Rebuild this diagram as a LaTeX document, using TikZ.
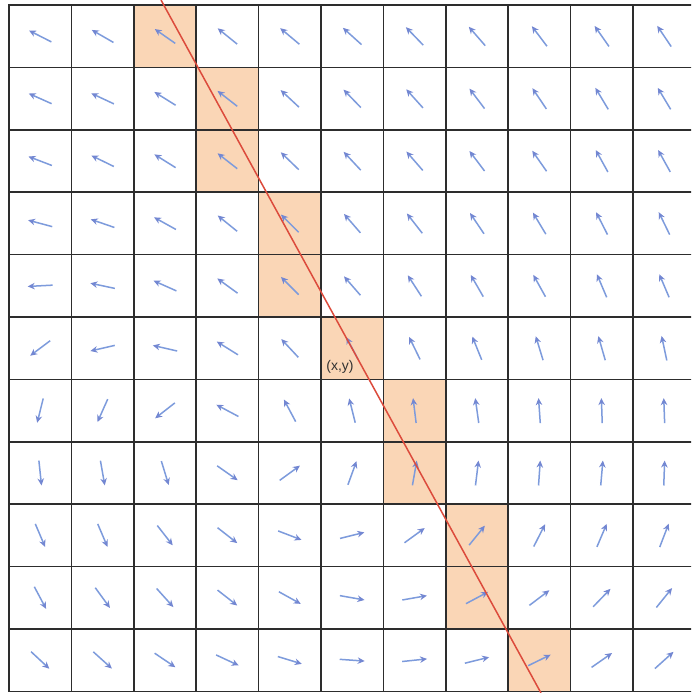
\documentclass[tikz,border=0pt]{standalone}
\usepackage{fontspec}
\setmainfont{Liberation Sans}
\usetikzlibrary{arrows.meta}
\definecolor{cellfill}{RGB}{250,214,182}
\definecolor{gridcol}{RGB}{45,45,45}
\definecolor{arrowcol}{RGB}{125,155,220}
\definecolor{headcol}{RGB}{115,135,210}
\definecolor{redline}{RGB}{220,75,60}
\definecolor{labelcol}{RGB}{50,50,50}
\begin{document}
\begin{tikzpicture}[x=1pt,y=-1pt,
  gridline/.style={draw=gridcol,line width=1.7pt,line cap=rect},
  vec/.style={draw=arrowcol,line width=1.5pt,-{Stealth[length=7pt,width=6.5pt,color=headcol]}},
  cutline/.style={draw=redline,line width=1.5pt},
  lbl/.style={text=labelcol,font=\fontsize{14}{14}\selectfont,inner sep=0pt}]
\useasboundingbox (0,0) rectangle (691,693);
\fill[white] (0,0) rectangle (691,693);
\begin{scope}
\clip (0,0) rectangle (691,693);
% highlighted cells
\foreach \c/\r in {2/0,3/1,3/2,4/3,4/4,5/5,6/6,6/7,7/8,7/9,8/10}
  \fill[cellfill] ({9+62.4*\c},{5+62.4*\r}) rectangle ++(62.4,62.4);
% direction arrows
\foreach \r/\angs in {
  0/{153,150,145,141,140,138,134,131,127,125,124},
  1/{156,155,148,142,137,134,132,127,124,121,121},
  2/{159,154,148,142,136,133,131,127,125,119,119},
  3/{165,161,151,141,135,131,128,124,121,117,116},
  4/{183,168,156,144,135,131,123,120,119,113,113},
  5/{217,193,167,148,133,118,116,112,107,106,102},
  6/{256,246,218,152,118,104,97,98,94,92,92},
  7/{276,280,287,325,36,70,80,83,86,85,88},
  8/{293,293,308,322,339,14,36,51,63,67,69},
  9/{298,306,312,322,331,350,10,28,37,46,51},
  10/{317,318,326,335,343,356,6,14,26,35,42}}{
  \foreach \a [count=\c from 0] in \angs {
    \pgfmathsetmacro\cx{9+62.4*(\c+0.5)}
    \pgfmathsetmacro\cy{5+62.4*(\r+0.5)}
    \draw[vec] ({\cx-12.5*cos(\a)},{\cy+12.5*sin(\a)}) -- ({\cx+12.5*cos(\a)},{\cy-12.5*sin(\a)});
  }
}
% grid
\foreach \i in {0,...,11}
  \draw[gridline] ({9+62.4*\i},5) -- ({9+62.4*\i},691);
\foreach \j in {0,...,11}
  \draw[gridline] (9,{5+62.4*\j}) -- (691,{5+62.4*\j});
% red line
\coordinate (ltop) at (161,0);
\coordinate (lbot) at (541,693);
\draw[cutline] (ltop) -- (lbot);
\end{scope}
\node[lbl] (xy) at (340,367) {(x,y)};
\end{tikzpicture}
\end{document}
